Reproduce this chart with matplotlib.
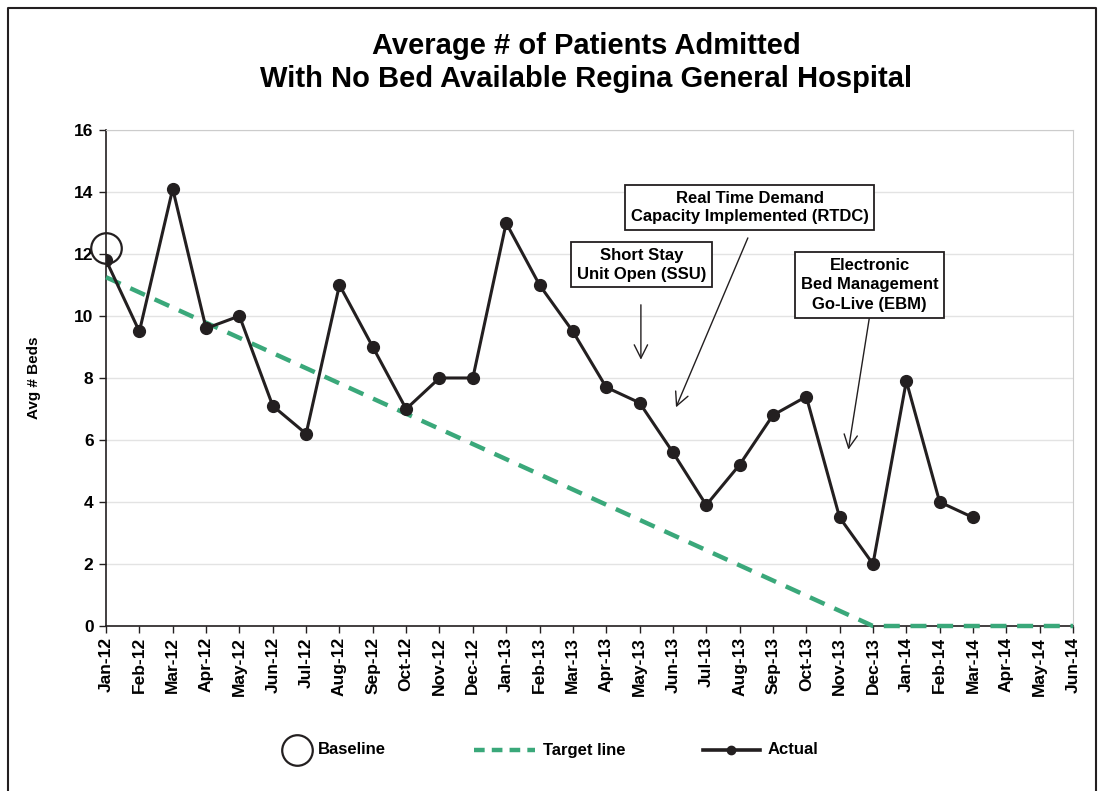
import numpy as np
import matplotlib.pyplot as plt
import matplotlib as mpl
from matplotlib.lines import Line2D

plt.rcParams["font.family"] = ["Liberation Sans", "DejaVu Sans"]
plt.rcParams["font.weight"] = "bold"

months = ["Jan-12", "Feb-12", "Mar-12", "Apr-12", "May-12", "Jun-12", "Jul-12", "Aug-12",
          "Sep-12", "Oct-12", "Nov-12", "Dec-12", "Jan-13", "Feb-13", "Mar-13", "Apr-13",
          "May-13", "Jun-13", "Jul-13", "Aug-13", "Sep-13", "Oct-13", "Nov-13", "Dec-13",
          "Jan-14", "Feb-14", "Mar-14", "Apr-14", "May-14", "Jun-14"]
actual = [11.8, 9.5, 14.1, 9.6, 10.0, 7.1, 6.2, 11.0, 9.0, 7.0, 8.0, 8.0, 13.0, 11.0,
          9.5, 7.7, 7.2, 5.6, 3.9, 5.2, 6.8, 7.4, 3.5, 2.0, 7.9, 4.0, 3.5]
target_months = ["Jan-12", "Dec-13", "Jun-14"]
target_vals = [11.25, 0, 0]
baseline_month = "Jan-12"
baseline_val = 12.2

green = "#3aa87a"
ink = "#231f20"

fig = plt.figure(figsize=(11, 7.91), dpi=100)
ax = fig.add_axes([0.0964, 0.2086, 0.8791, 0.6271])

xi = np.arange(len(months))
ax.plot(xi[:len(actual)], actual, color=ink, lw=2.2, marker="o", ms=8.5, zorder=4)
tx = [months.index(m) for m in target_months]
ax.plot(tx, target_vals, color=green, lw=3.2, dashes=(3.6, 2.4), zorder=3, clip_on=False)
ax.plot([months.index(baseline_month)], [baseline_val], marker="o", ms=22, mfc="none",
        mec=ink, mew=1.6, ls="none", clip_on=False, zorder=5)

ax.set_xlim(0, len(months) - 1)
ax.set_ylim(0, 16)
ax.set_yticks(range(0, 17, 2))
ax.set_xticks(xi)
ax.set_xticklabels(months, rotation=90, fontsize=12.5, fontweight="bold")
ax.tick_params(axis="y", labelsize=12.5, length=5, width=1, color=ink, pad=4)
ax.tick_params(axis="x", length=5, width=1, color=ink, pad=3)
ax.grid(axis="y", color="#e3e3e3", lw=1)
ax.set_axisbelow(True)
for s in ["top", "right"]:
    ax.spines[s].set_color("#cccccc")
for s in ["left", "bottom"]:
    ax.spines[s].set_color(ink)
    ax.spines[s].set_linewidth(1.2)
ax.set_ylabel("Avg # Beds", fontsize=11, fontweight="bold", labelpad=24)

fig.text(0.533, 0.921, "Average # of Patients Admitted\nWith No Bed Available Regina General Hospital",
         ha="center", va="center", fontsize=21, fontweight="bold", linespacing=1.22, color="black")

box = dict(boxstyle="square,pad=0.35", fc="white", ec=ink, lw=1.3)
arrow = dict(arrowstyle="->", color=ink, lw=1.0, mutation_scale=24)
ax.annotate("", xy=(16.04, 8.5), xytext=(16.04, 10.45), arrowprops=arrow)
ax.text(16.05, 11.65, "Short Stay\nUnit Open (SSU)", ha="center", va="center",
        fontsize=12, fontweight="bold", bbox=box, linespacing=1.3)
ax.annotate("", xy=(17.06, 6.97), xytext=(19.28, 12.6), arrowprops=arrow)
ax.text(19.3, 13.5, "Real Time Demand\nCapacity Implemented (RTDC)", ha="center", va="center",
        fontsize=12, fontweight="bold", bbox=box, linespacing=1.3)
ax.annotate("", xy=(22.25, 5.6), xytext=(22.9, 10.0), arrowprops=arrow)
ax.text(22.9, 11.0, "Electronic\nBed Management\nGo-Live (EBM)", ha="center", va="center",
        fontsize=12, fontweight="bold", bbox=box, linespacing=1.35)

# legend drawn by hand to match the spacing
ly = 1 - 750 / 791
fig.add_artist(Line2D([297 / 1100], [ly], marker="o", ms=22, mfc="none", mec=ink, mew=1.6,
                      ls="none", transform=fig.transFigure))
fig.text(318 / 1100, ly, "Baseline", ha="left", va="center", fontsize=12, fontweight="bold")
fig.add_artist(Line2D([474 / 1100, 535 / 1100], [ly, ly], color=green, lw=3.2, dashes=(2.4, 1.6),
                      transform=fig.transFigure))
fig.text(543 / 1100, ly, "Target line", ha="left", va="center", fontsize=12, fontweight="bold")
fig.add_artist(Line2D([703 / 1100, 760 / 1100], [ly, ly], color=ink, lw=2.6,
                      transform=fig.transFigure))
fig.add_artist(Line2D([731 / 1100], [ly], color=ink, marker="o", ms=6,
                      transform=fig.transFigure))
fig.text(768 / 1100, ly, "Actual", ha="left", va="center", fontsize=12, fontweight="bold")

# outer frame
fig.add_artist(Line2D([0.0075, 0.0075, 0.996, 0.996], [0.0, 0.99, 0.99, 0.0],
                      transform=fig.transFigure, color=ink, lw=1.5))

fig.savefig("out.png", dpi=100)
